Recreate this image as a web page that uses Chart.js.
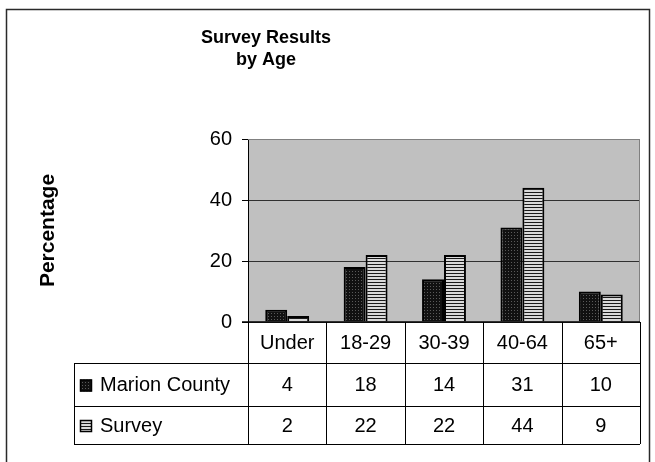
<!DOCTYPE html>
<html>
<head>
<meta charset="utf-8">
<script src="https://cdn.jsdelivr.net/npm/chart.js@4"></script>
<style>
  html, body { margin: 0; padding: 0; background: #fff; }
  #wrap { width: 655px; height: 462px; }
</style>
</head>
<body>
<div id="wrap"><canvas id="myChart" width="655" height="462"></canvas></div>
<script>
const categories = ['Under', '18-29', '30-39', '40-64', '65+'];
const seriesNames = ['Marion County', 'Survey'];
const marionCounty = [4, 18, 14, 31, 10];
const survey = [2, 22, 22, 44, 9];
const yTicks = [0, 20, 40, 60];
const titleLines = ['Survey Results', 'by Age'];

const FONT = "'Liberation Sans', Arial, sans-serif";
Chart.defaults.font.family = FONT;
Chart.defaults.color = '#000';

// fill patterns like the old excel ones
function makePattern(w, h, draw) {
  const c = document.createElement('canvas');
  c.width = w;
  c.height = h;
  const g = c.getContext('2d');
  draw(g);
  return document.getElementById('myChart').getContext('2d').createPattern(c, 'repeat');
}
const dotted = makePattern(3, 3, (g) => {
  g.fillStyle = '#111';
  g.fillRect(0, 0, 3, 3);
  g.fillStyle = '#5a5a5a';
  g.fillRect(1, 1, 1, 1);
});
const striped = makePattern(3, 3, (g) => {
  g.fillStyle = '#dadada';
  g.fillRect(0, 0, 3, 3);
  g.fillStyle = '#1a1a1a';
  g.fillRect(0, 0, 3, 1);
});
const fills = [dotted, striped];
const series = [marionCounty, survey];

const rowHeights = [41, 43, 38];
const labelColWidth = 174;

const framePlugin = {
  id: 'frame',
  beforeDraw(chart) {
    const { ctx, chartArea: a } = chart;
    ctx.save();
    ctx.fillStyle = '#fff';
    ctx.fillRect(0, 0, chart.width, chart.height);
    ctx.strokeStyle = '#2a2a2a';
    ctx.lineWidth = 1.5;
    ctx.strokeRect(6.5, 9.5, 643, 470);
    ctx.fillStyle = '#c0c0c0';
    ctx.fillRect(a.left, a.top, a.right - a.left, a.bottom - a.top);
    ctx.restore();
  },
  afterDraw(chart) {
    const { ctx, chartArea: a } = chart;
    const x = chart.scales.x;
    ctx.save();

    // title
    ctx.fillStyle = '#000';
    ctx.font = 'bold 18px ' + FONT;
    ctx.textAlign = 'center';
    ctx.textBaseline = 'middle';
    titleLines.forEach((t, i) => ctx.fillText(t, 266, 38 + i * 22));

    // plot border
    ctx.strokeStyle = '#808080';
    ctx.lineWidth = 1;
    ctx.beginPath();
    ctx.moveTo(a.left, a.top + 0.5);
    ctx.lineTo(a.right - 0.5, a.top + 0.5);
    ctx.lineTo(a.right - 0.5, a.bottom);
    ctx.stroke();

    // data table
    const bounds = [a.left];
    for (let i = 0; i < categories.length - 1; i++) {
      bounds.push((x.getPixelForValue(i) + x.getPixelForValue(i + 1)) / 2);
    }
    bounds.push(a.right);
    const rows = [a.bottom];
    rowHeights.forEach((h) => rows.push(rows[rows.length - 1] + h));
    const tableLeft = a.left - labelColWidth;
    const bottom = rows[rows.length - 1];

    ctx.strokeStyle = '#000';
    ctx.lineWidth = 1;
    ctx.beginPath();
    bounds.forEach((bx) => {
      ctx.moveTo(Math.round(bx) + 0.5, a.bottom);
      ctx.lineTo(Math.round(bx) + 0.5, bottom);
    });
    ctx.moveTo(tableLeft + 0.5, rows[1]);
    ctx.lineTo(tableLeft + 0.5, bottom);
    for (let r = 1; r < rows.length; r++) {
      ctx.moveTo(tableLeft, Math.round(rows[r]) + 0.5);
      ctx.lineTo(a.right, Math.round(rows[r]) + 0.5);
    }
    ctx.stroke();
    ctx.lineWidth = 1.5;
    ctx.beginPath();
    ctx.moveTo(a.left - 6, a.bottom);
    ctx.lineTo(a.right, a.bottom);
    ctx.stroke();

    ctx.font = '20px ' + FONT;
    ctx.textBaseline = 'middle';
    ctx.textAlign = 'center';
    categories.forEach((c, i) => {
      ctx.fillText(c, x.getPixelForValue(i), (rows[0] + rows[1]) / 2 + 1);
    });
    series.forEach((vals, s) => {
      const cy = (rows[s + 1] + rows[s + 2]) / 2 + 1;
      ctx.textAlign = 'center';
      vals.forEach((v, i) => ctx.fillText(String(v), x.getPixelForValue(i), cy));
      ctx.fillStyle = fills[s];
      ctx.fillRect(tableLeft + 6, cy - 6, 12, 12);
      ctx.strokeStyle = '#000';
      ctx.lineWidth = 1.5;
      ctx.strokeRect(tableLeft + 6.5, cy - 5.5, 11, 11);
      ctx.fillStyle = '#000';
      ctx.textAlign = 'left';
      ctx.fillText(seriesNames[s], tableLeft + 26, cy);
    });
    ctx.restore();
  },
};

const ctx = document.getElementById('myChart').getContext('2d');
const myChart = new Chart(ctx, {
  type: 'bar',
  data: {
    labels: categories,
    datasets: series.map((vals, s) => ({
      label: seriesNames[s],
      data: vals,
      backgroundColor: fills[s],
      borderColor: '#000',
      borderWidth: 2,
      borderSkipped: 'bottom',
      categoryPercentage: 0.56,
      barPercentage: 1,
    })),
  },
  options: {
    responsive: false,
    animation: false,
    layout: { padding: { left: 12, top: 139, right: 15, bottom: 140 } },
    plugins: {
      legend: { display: false },
      title: { display: false },
      tooltip: { enabled: false },
    },
    scales: {
      x: { display: false },
      y: {
        min: 0,
        max: 60,
        afterBuildTicks: (scale) => { scale.ticks = yTicks.map((v) => ({ value: v })); },
        afterFit: (scale) => { scale.width = 236; },
        ticks: { padding: 10, color: '#000', font: { size: 20 } },
        grid: {
          color: (c) => (c.tick && c.tick.value === 60 ? '#808080' : '#303030'),
          tickColor: '#000',
          tickLength: 6,
          lineWidth: 1,
        },
        border: { display: true, color: '#000', width: 1 },
        title: {
          display: true,
          text: 'Percentage',
          color: '#000',
          font: { size: 21, weight: 'bold' },
          padding: { top: 24, bottom: 0 },
        },
      },
    },
  },
  plugins: [framePlugin],
});
</script>
</body>
</html>
